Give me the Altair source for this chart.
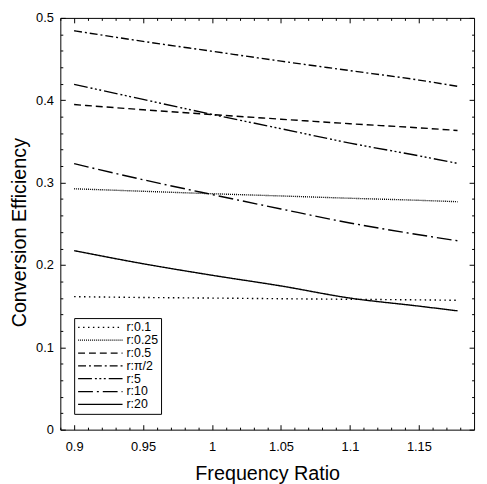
import altair as alt
import pandas as pd

# ---- data ----
x_vals = [0.9, 0.95, 1.0, 1.05, 1.1, 1.15, 1.178]
labels = ["r:0.1", "r:0.25", "r:0.5", "r:π/2", "r:5", "r:10", "r:20"]
r01 = [0.1615, 0.1605, 0.1598, 0.1590, 0.1583, 0.1576, 0.1571]
r025 = [0.2925, 0.2895, 0.2865, 0.2838, 0.2810, 0.2785, 0.2768]
r05 = [0.3948, 0.3885, 0.3826, 0.3770, 0.3715, 0.3665, 0.3633]
rpi2 = [0.4844, 0.4715, 0.4595, 0.4475, 0.4360, 0.4245, 0.4169]
r5 = [0.4193, 0.4010, 0.3828, 0.3655, 0.3480, 0.3325, 0.3234]
r10 = [0.3230, 0.3035, 0.2855, 0.2680, 0.2510, 0.2367, 0.2294]
r20 = [0.2174, 0.2015, 0.1875, 0.1745, 0.1598, 0.1500, 0.1443]

x_major = [0.9, 0.95, 1.0, 1.05, 1.1, 1.15]
x_minor = [0.89, 0.91, 0.92, 0.93, 0.94, 0.96, 0.97, 0.98, 0.99, 1.01, 1.02,
           1.03, 1.04, 1.06, 1.07, 1.08, 1.09, 1.11, 1.12, 1.13, 1.14, 1.16,
           1.17, 1.18]
y_major = [0, 0.1, 0.2, 0.3, 0.4, 0.5]
y_minor = [0.02, 0.04, 0.06, 0.08, 0.12, 0.14, 0.16, 0.18, 0.22, 0.24, 0.26,
           0.28, 0.32, 0.34, 0.36, 0.38, 0.42, 0.44, 0.46, 0.48]

dashes = [[1.5, 3.5], [1, 1], [7, 4], [8, 3, 2, 3],
          [14, 3, 2, 2.5, 2, 2.5, 2, 3], [15, 4, 2, 4], [1, 0]]

series = [r01, r025, r05, rpi2, r5, r10, r20]
rows = []
for lab, vals in zip(labels, series):
    for xv, yv in zip(x_vals, vals):
        rows.append({"ratio": xv, "eff": yv, "r": lab})
df = pd.DataFrame(rows)

FONT = "Liberation Sans"
xdom = [0.89, 1.19]
ydom = [0, 0.5]

base = alt.Chart(df)

xs = alt.Scale(domain=xdom, nice=False, zero=False)
ys = alt.Scale(domain=ydom, nice=False, zero=False)

lines = base.mark_line(color="black", strokeWidth=1.4, interpolate="monotone").encode(
    x=alt.X("ratio:Q", scale=xs, title="Frequency  Ratio",
            axis=alt.Axis(orient="bottom", values=x_major, format="~g",
                          offset=-5, tickSize=5, domain=False, grid=False,
                          labelPadding=11, labelFlush=False, labelFontSize=13,
                          titleFontSize=20, titleFontWeight="normal",
                          titlePadding=10, tickColor="black",
                          labelColor="black", titleColor="black")),
    y=alt.Y("eff:Q", scale=ys, title="Conversion Efficiency",
            axis=alt.Axis(orient="left", values=y_major, format="~g",
                          offset=-5, tickSize=5, domain=False, grid=False,
                          labelPadding=7, labelFlush=False, labelFontSize=13,
                          titleFontSize=20, titleFontWeight="normal",
                          titleX=-36, titleY=217, titleBaseline="bottom",
                          titleAngle=270, titleAlign="center",
                          tickColor="black",
                          labelColor="black", titleColor="black")),
    strokeDash=alt.StrokeDash(
        "r:N",
        scale=alt.Scale(domain=labels, range=dashes),
        legend=alt.Legend(orient="none", legendX=14, legendY=304, title=None,
                          strokeColor="black", fillColor="white", padding=3,
                          symbolType="stroke", symbolSize=2025,
                          symbolStrokeWidth=1.3, symbolStrokeColor="black",
                          clipHeight=12.8, rowPadding=0, labelOffset=3,
                          labelFontSize=12.5, labelColor="black"),
    ),
)


def tick_layer(xorient, yorient, xvals, yvals, size):
    return base.mark_point(opacity=0, size=1).encode(
        x=alt.X("ratio:Q", scale=xs, title="",
                axis=alt.Axis(orient=xorient, values=xvals, offset=-size,
                              tickSize=size, labels=False, domain=False,
                              grid=False, tickColor="black")),
        y=alt.Y("eff:Q", scale=ys, title="",
                axis=alt.Axis(orient=yorient, values=yvals, offset=-size,
                              tickSize=size, labels=False, domain=False,
                              grid=False, tickColor="black")),
    )


chart = alt.layer(
    lines,
    tick_layer("bottom", "left", x_minor, y_minor, 2.5),
    tick_layer("top", "right", x_major, y_major, 5),
    tick_layer("top", "right", x_minor, y_minor, 2.5),
).resolve_axis(x="independent", y="independent").properties(
    width=419, height=417,
    autosize=alt.AutoSizeParams(type="none"),
    padding={"left": 53, "top": 7, "right": 5, "bottom": 52},
).configure(font=FONT).configure_view(stroke="black", strokeWidth=1)

chart.save("out.html", embed_options={"renderer": "svg", "actions": False})
